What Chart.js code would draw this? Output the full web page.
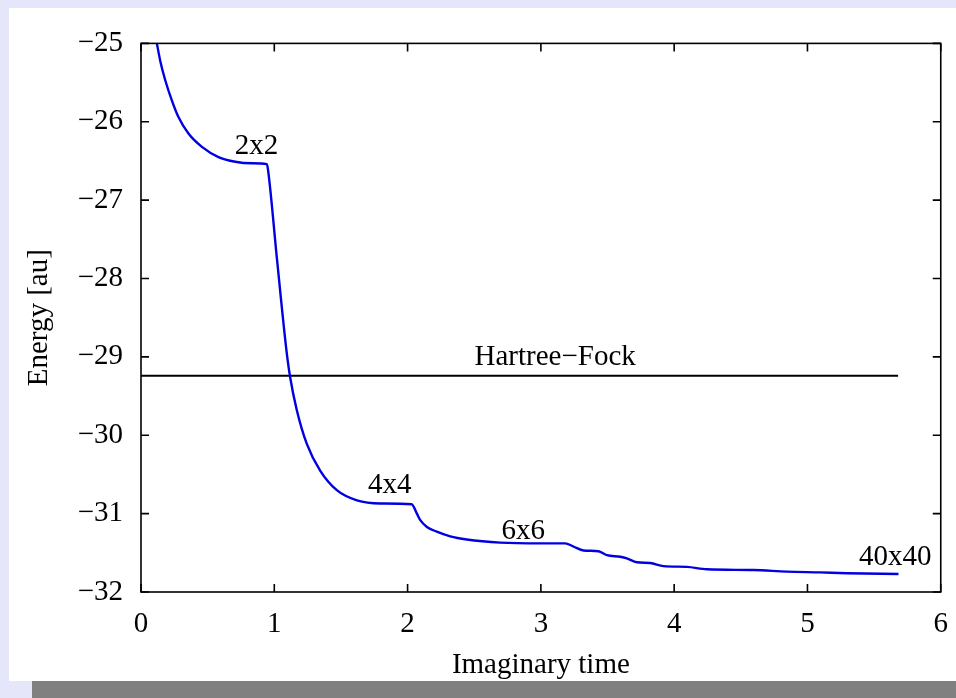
<!DOCTYPE html>
<html>
<head>
<meta charset="utf-8">
<script src="https://cdn.jsdelivr.net/npm/chart.js@4/dist/chart.umd.min.js"></script>
<style>
  body { margin: 0; background: #e6e6fa; width: 956px; height: 698px; overflow: hidden; position: relative; }
  #panel { position: absolute; left: 9px; top: 8px; width: 947px; height: 673px; background: #fff; }
  #chart { position: absolute; left: 9px; top: 8px; }
  #bar { position: absolute; left: 32px; top: 681px; width: 924px; height: 17px; background: #808080; }
</style>
</head>
<body>
<div id="panel"></div>
<canvas id="chart" width="954" height="690"></canvas>
<div id="bar"></div>
<script>
// imaginary-time evolution of the energy
const time = [0.10, 0.119, 0.144, 0.182, 0.232, 0.281, 0.356, 0.457, 0.581, 0.707, 0.832, 0.944,
  0.952, 1.02, 1.09, 1.119, 1.169, 1.244, 1.344, 1.469, 1.62, 1.794, 2.03,
  2.07, 2.094, 2.145, 2.219, 2.32, 2.444, 2.694, 3.0, 3.182, 3.245, 3.32, 3.432, 3.495, 3.595, 3.645, 3.72, 3.82, 3.92,
  4.095, 4.245, 4.595, 4.845, 5.095, 5.295, 5.683];
const energy = [-24.83, -25.0, -25.22, -25.47, -25.73, -25.94, -26.15, -26.32, -26.45, -26.51, -26.53, -26.54,
  -26.6, -27.75, -28.9, -29.26, -29.68, -30.11, -30.45, -30.7, -30.83, -30.87, -30.88,
  -31.0, -31.08, -31.17, -31.23, -31.29, -31.33, -31.37, -31.38, -31.38, -31.42, -31.47, -31.48, -31.53, -31.55, -31.57, -31.62, -31.63, -31.67,
  -31.68, -31.71, -31.72, -31.74, -31.75, -31.76, -31.77];

// Hartree-Fock reference level
const hfTime = [0, 5.68];
const hfEnergy = [-29.24, -29.24];

// basis size labels
const labelText = ['2x2', '4x4', '6x6', '40x40', 'Hartree\u2212Fock'];
const labelTime = [0.866, 1.866, 2.867, 5.658, 3.107];
const labelEnergy = [-26.31, -30.64, -31.23, -31.56, -29.01];

const xTicks = [0, 1, 2, 3, 4, 5, 6];
const yTicks = [-32, -31, -30, -29, -28, -27, -26, -25];

const FONT = "'Liberation Serif', 'Times New Roman', serif";
Chart.defaults.font.family = FONT;
Chart.defaults.font.size = 29;
Chart.defaults.color = '#000';

const framePlugin = {
  id: 'frame',
  afterDatasetsDraw(chart) {
    const { ctx, chartArea: a, scales } = chart;
    ctx.save();
    ctx.strokeStyle = '#000';
    ctx.lineWidth = 1.6;
    ctx.beginPath();
    xTicks.forEach(v => {
      const px = scales.x.getPixelForValue(v);
      ctx.moveTo(px, a.bottom); ctx.lineTo(px, a.bottom - 8);
      ctx.moveTo(px, a.top); ctx.lineTo(px, a.top + 8);
    });
    yTicks.forEach(v => {
      const py = scales.y.getPixelForValue(v);
      ctx.moveTo(a.left, py); ctx.lineTo(a.left + 8, py);
      ctx.moveTo(a.right, py); ctx.lineTo(a.right - 8, py);
    });
    ctx.stroke();
    ctx.strokeRect(a.left, a.top, a.right - a.left, a.bottom - a.top);

    ctx.fillStyle = '#000';
    ctx.font = '29px ' + FONT;
    ctx.textAlign = 'center';
    ctx.textBaseline = 'middle';
    labelText.forEach((t, i) => {
      ctx.fillText(t, scales.x.getPixelForValue(labelTime[i]), scales.y.getPixelForValue(labelEnergy[i]));
    });
    ctx.restore();
  }
};

new Chart(document.getElementById('chart'), {
  type: 'line',
  data: {
    datasets: [{
      data: time.map((t, i) => ({ x: t, y: energy[i] })),
      borderColor: '#0000e0',
      borderWidth: 2.4,
      pointRadius: 0,
      cubicInterpolationMode: 'monotone'
    }, {
      data: hfTime.map((t, i) => ({ x: t, y: hfEnergy[i] })),
      borderColor: '#000',
      borderWidth: 2,
      pointRadius: 0
    }]
  },
  options: {
    responsive: false,
    animation: false,
    devicePixelRatio: 1,
    layout: { padding: { top: 35, right: 8, left: 0, bottom: 0 } },
    plugins: { legend: { display: false }, tooltip: { enabled: false } },
    scales: {
      x: {
        type: 'linear',
        min: 0, max: 6,
        afterFit: s => { s.height = 106; },
        afterBuildTicks: s => { s.ticks = xTicks.map(v => ({ value: v })); },
        grid: { display: false, drawTicks: false },
        border: { display: false },
        ticks: { padding: 15, maxRotation: 0, autoSkip: false },
        title: { display: true, text: 'Imaginary time', padding: { top: 0, bottom: 15 } }
      },
      y: {
        min: -32, max: -25,
        afterFit: s => { s.width = 132; },
        afterBuildTicks: s => { s.ticks = yTicks.map(v => ({ value: v })); },
        grid: { display: false, drawTicks: false },
        border: { display: false },
        ticks: { padding: 18, callback: v => String(v).replace('-', '\u2212') },
        title: { display: true, text: 'Energy [au]', padding: { top: 13, bottom: 0 } }
      }
    }
  },
  plugins: [framePlugin]
});
</script>
</body>
</html>
